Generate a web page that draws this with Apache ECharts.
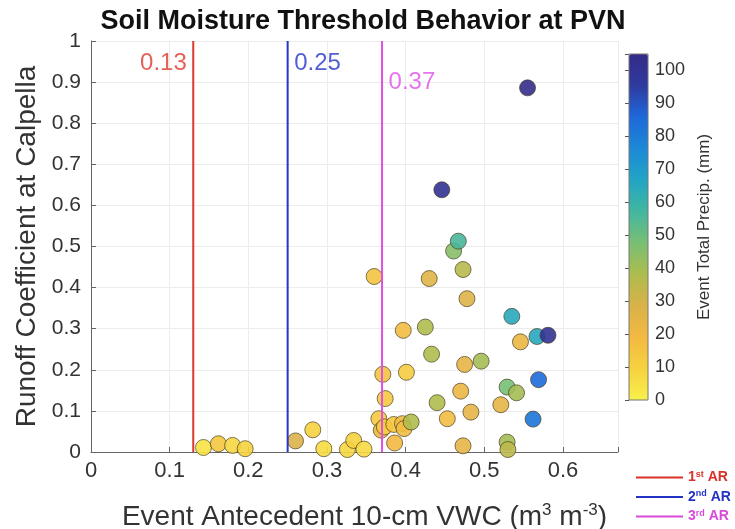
<!DOCTYPE html>
<html>
<head>
<meta charset="utf-8">
<script src="https://cdn.jsdelivr.net/npm/echarts@6/dist/echarts.min.js"></script>
<style>html,body{margin:0;padding:0;background:#fff}#c{width:735px;height:529px}</style>
</head>
<body>
<div id="c"></div>
<script>
// Event antecedent 10-cm VWC (x), runoff coefficient (y), event total precip mm (colour)
const vwc = [0.143,0.162,0.180,0.196,0.260,0.282,0.296,0.326,0.334,0.347,
             0.360,0.366,0.369,0.371,0.373,0.374,0.385,0.386,0.396,0.398,
             0.397,0.401,0.407,0.425,0.430,0.433,0.440,0.446,0.453,0.461,
             0.467,0.470,0.473,0.473,0.475,0.478,0.483,0.496,0.521,0.529,
             0.529,0.530,0.535,0.541,0.546,0.555,0.562,0.567,0.569,0.581];
const runoff = [0.011,0.020,0.016,0.008,0.027,0.054,0.008,0.006,0.028,0.007,
                0.427,0.081,0.053,0.189,0.061,0.130,0.067,0.022,0.069,0.057,
                0.296,0.194,0.073,0.304,0.422,0.238,0.120,0.638,0.081,0.489,
                0.513,0.148,0.444,0.015,0.213,0.373,0.097,0.221,0.115,0.158,
                0.024,0.006,0.330,0.144,0.268,0.886,0.080,0.281,0.176,0.284];
const precip = [4,14,8,10,28,10,6,8,10,7,
                15,13,22,15,12,13,14,19,18,18,
                18,12,38,38,26,38,38,100,18,45,
                56,22,36,24,24,27,24,40,24,48,
                40,35,65,40,22,103,82,65,85,100];
const thresholds = [0.13, 0.25, 0.37];
const thresholdNames = ['1st AR', '2nd AR', '3rd AR'];
const xTicks = [0, 0.1, 0.2, 0.3, 0.4, 0.5, 0.6];
const yTicks = [0, 0.1, 0.2, 0.3, 0.4, 0.5, 0.6, 0.7, 0.8, 0.9, 1];
const cbarTicks = [0, 10, 20, 30, 40, 50, 60, 70, 80, 90, 100];

const thrColors = ['#dd3a2e', '#2536c8', '#e050e6'];
const legendColors = ['#d8322a', '#2333c4', '#d94ad8'];
const cmap = ['#f8f04a','#f6d23f','#f3b942','#d8b24a','#aebc4e','#78bf74',
              '#42b6a0','#22a5c4','#1c89d6','#1e68da','#2f3a9f','#352a87'];
const FONT = 'Liberation Sans, Arial, Helvetica, sans-serif';

const pts = vwc.map((x, i) => [x, runoff[i], precip[i]]);

const series = [{
  type: 'scatter', xAxisIndex: 0, yAxisIndex: 0, data: pts, symbolSize: 16, z: 2,
  itemStyle: { borderColor: 'rgba(70,60,30,0.75)', borderWidth: 1, opacity: 0.9 }
}];
thresholds.forEach((t, i) => {
  series.push({
    name: thresholdNames[i], type: 'line', xAxisIndex: 0, yAxisIndex: 0,
    data: [[t, 0], [t, 1]], symbol: 'none', z: 3, silent: true,
    lineStyle: { color: thrColors[i], width: 2 }, itemStyle: { color: thrColors[i] }
  });
});
// threshold value labels
const labelY = [0.945, 0.945, 0.90];
const labelPos = ['left', 'right', 'right'];
thresholds.forEach((t, i) => {
  series.push({
    type: 'scatter', xAxisIndex: 0, yAxisIndex: 0, symbolSize: 1, silent: true, z: 4,
    itemStyle: { color: 'rgba(0,0,0,0)' },
    data: [[t, labelY[i]]],
    label: { show: true, position: labelPos[i], distance: 6, formatter: String(t),
             color: thrColors[i], fontSize: 24, fontFamily: FONT }
  });
});

const sup = {
  1: '1{s|st} AR', 2: '2{s|nd} AR', 3: '3{s|rd} AR'
};

const option = {
  animation: false,
  backgroundColor: '#fff',
  textStyle: { fontFamily: FONT },
  title: {
    text: 'Soil Moisture Threshold Behavior at PVN', left: 358, textAlign: 'center', top: 3,
    textStyle: { fontSize: 27, fontWeight: 'bold', color: '#111', fontFamily: FONT }
  },
  legend: {
    orient: 'vertical', left: 636, top: 470, itemWidth: 47, itemHeight: 10, itemGap: 5,
    padding: 0, selectedMode: false,
    data: thresholdNames.map((n, i) => ({
      name: n, icon: 'path://M0,4L47,4L47,6L0,6Z',
      itemStyle: { color: legendColors[i] },
      textStyle: { color: legendColors[i], fontSize: 14, fontWeight: 'bold',
                   rich: { s: { fontSize: 9, fontWeight: 'bold', color: legendColors[i], verticalAlign: 'top', padding: [0,0,6,0] } } }
    })),
    formatter: n => sup[thresholdNames.indexOf(n) + 1]
  },
  grid: [
    { left: 91, top: 41, width: 527, height: 411, containLabel: false, outerBoundsMode: 'none' },
    { left: 629, top: 54, width: 19, height: 346, show: true, borderColor: '#777', borderWidth: 1, z: 5, outerBoundsMode: 'none' }
  ],
  xAxis: [{
    type: 'value', gridIndex: 0, min: 0, max: 0.67, interval: 0.1,
    axisLine: { show: true, onZero: false, lineStyle: { color: '#666', width: 1 } },
    axisTick: { show: true, inside: true, length: 5, lineStyle: { color: '#666' } },
    axisLabel: { fontSize: 22, color: '#333', margin: 8, fontFamily: FONT,
                 formatter: v => (xTicks.some(t => Math.abs(t - v) < 1e-9) ? String(Math.round(v * 10) / 10) : '') },
    splitLine: { show: true, lineStyle: { color: '#ececec', width: 1 } },
    name: 'Event Antecedent 10-cm VWC (m{s|3} m{s|-3})', nameLocation: 'middle', nameGap: 50,
    nameTextStyle: { fontSize: 28, color: '#333', fontFamily: FONT, padding: [0, 0, 0, 20],
      rich: { s: { fontSize: 17, color: '#333', verticalAlign: 'top', padding: [0, 0, 13, 0] } } }
  }, {
    type: 'value', gridIndex: 1, min: 0, max: 1, show: false
  }],
  yAxis: [{
    type: 'value', gridIndex: 0, min: 0, max: 1, interval: 0.1,
    axisLine: { show: true, lineStyle: { color: '#666', width: 1 } },
    axisTick: { show: true, inside: true, length: 5, lineStyle: { color: '#666' } },
    axisLabel: { fontSize: 21, color: '#333', margin: 10, fontFamily: FONT,
                 formatter: v => String(Math.round(v * 10) / 10) },
    splitLine: { show: true, lineStyle: { color: '#ececec', width: 1 } },
    name: 'Runoff Coefficient at Calpella', nameLocation: 'middle', nameGap: 42,
    nameTextStyle: { fontSize: 28, color: '#333', fontFamily: FONT }
  }, {
    type: 'value', gridIndex: 1, position: 'right', min: 0, max: 105, interval: 10,
    axisLine: { show: false },
    axisTick: { show: true, inside: true, length: 4, lineStyle: { color: '#555' } },
    axisLabel: { fontSize: 18, color: '#333', margin: 7, fontFamily: FONT,
                 formatter: v => (cbarTicks.indexOf(v) >= 0 ? String(v) : '') },
    splitLine: { show: false },
    name: 'Event Total Precip. (mm)', nameLocation: 'middle', nameRotate: 90, nameGap: 48,
    nameTextStyle: { fontSize: 17, color: '#333', fontFamily: FONT }
  }],
  visualMap: {
    type: 'continuous', min: 0, max: 105, dimension: 2, seriesIndex: 0,
    inRange: { color: cmap }, calculable: false, hoverLink: false,
    left: 629, top: 54, itemWidth: 19, itemHeight: 346, padding: 0,
    text: null, showLabel: false, z: 4
  },
  series: series
};

echarts.init(document.getElementById('c'), null, { renderer: 'canvas' }).setOption(option);
</script>
</body>
</html>
